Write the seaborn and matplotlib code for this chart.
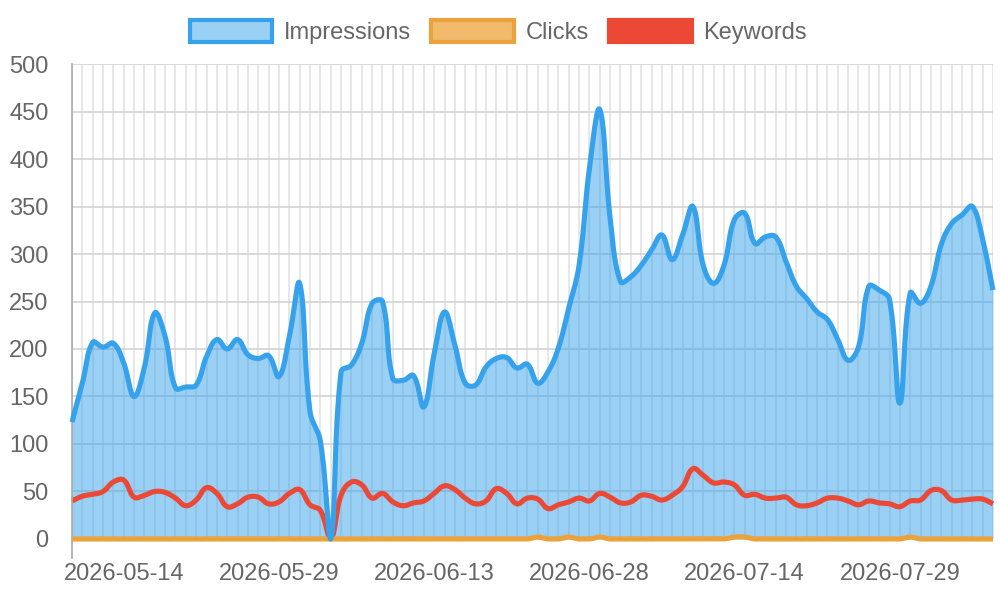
import numpy as np
import pandas as pd
import matplotlib
matplotlib.use("Agg")
import matplotlib.pyplot as plt
from matplotlib.patches import Patch
import seaborn as sns

# ---------------- data ----------------
all_days = pd.date_range("2026-05-09", "2026-08-07", freq="D")
dates = [d.strftime("%Y-%m-%d") for d in all_days if d.strftime("%Y-%m-%d") != "2026-07-05"]

impressions = [123, 164, 207, 202, 206, 185, 150, 181, 238, 213,
               159, 160, 162, 192, 210, 200, 210, 194, 190, 193,
               171, 213, 269, 134, 103, 0, 176, 183, 206, 248,
               250, 169, 167, 172, 139, 195, 239, 204, 164, 162,
               181, 190, 191, 180, 184, 164, 176, 201, 243, 288,
               390, 452, 338, 271, 276, 288, 304, 320, 294, 320,
               350, 288, 269, 288, 336, 343, 311, 318, 318, 292,
               266, 253, 239, 231, 210, 188, 202, 266, 262, 252,
               143, 259, 248, 266, 310, 332, 341, 350, 315, 262]

clicks = [0, 0, 0, 0, 0, 0, 0, 0, 0, 0,
          0, 0, 0, 0, 0, 0, 0, 0, 0, 0,
          0, 0, 0, 0, 0, 0, 0, 0, 0, 0,
          0, 0, 0, 0, 0, 0, 0, 0, 0, 0,
          0, 0, 0, 0, 0, 2, 0, 0, 2, 0,
          0, 2, 0, 0, 0, 0, 0, 0, 0, 0,
          0, 0, 0, 0, 2, 2, 0, 0, 0, 0,
          0, 0, 0, 0, 0, 0, 0, 0, 0, 0,
          0, 2, 0, 0, 0, 0, 0, 0, 0, 0]

keywords = [40, 45, 47, 50, 60, 62, 44, 46, 50, 49,
            43, 35, 41, 54, 48, 34, 37, 44, 44, 37,
            39, 48, 52, 36, 30, 0, 46, 60, 57, 43,
            48, 39, 35, 38, 40, 48, 56, 52, 43, 37,
            40, 53, 48, 37, 43, 42, 32, 36, 39, 43,
            40, 48, 44, 38, 39, 46, 45, 41, 46, 55,
            74, 67, 59, 60, 57, 46, 47, 43, 43, 44,
            36, 35, 38, 43, 43, 40, 36, 40, 38, 37,
            34, 40, 41, 51, 51, 41, 41, 42, 42, 37]

series_names = ["Impressions", "Clicks", "Keywords"]
label_step = 15
label_start = 5

# ---------------- style ----------------
BLUE = "#36A2EB"
ORANGE = "#EBA23A"
RED = "#EC4836"
TXT = "#666666"

sns.set_theme(style="white")
plt.rcParams["font.family"] = ["Liberation Sans", "DejaVu Sans"]

fig = plt.figure(figsize=(10, 6), dpi=100)
ax = fig.add_axes([0.072, 0.1017, 0.921, 0.7916])

n = len(impressions)
YMAX = 500
# pixels per unit (for the Chart.js-like spline which works in pixel space)
SX = 921.0 / (n - 1)
SY = 475.0 / YMAX


def smooth(values, t=0.4, steps=24):
    xs = np.arange(len(values), dtype=float) * SX
    ys = np.asarray(values, dtype=float) * SY
    m = len(xs)
    prev_cp = np.zeros((m, 2))
    next_cp = np.zeros((m, 2))
    for i in range(m):
        a = max(i - 1, 0)
        b = min(i + 1, m - 1)
        d01 = np.hypot(xs[i] - xs[a], ys[i] - ys[a])
        d12 = np.hypot(xs[b] - xs[i], ys[b] - ys[i])
        tot = d01 + d12
        s01 = d01 / tot if tot else 0.0
        s12 = d12 / tot if tot else 0.0
        fa, fb = t * s01, t * s12
        dx, dy = xs[b] - xs[a], ys[b] - ys[a]
        prev_cp[i] = (xs[i] - fa * dx, ys[i] - fa * dy)
        next_cp[i] = (xs[i] + fb * dx, ys[i] + fb * dy)
    # cap to chart area
    prev_cp[:, 1] = np.clip(prev_cp[:, 1], 0, YMAX * SY)
    next_cp[:, 1] = np.clip(next_cp[:, 1], 0, YMAX * SY)
    prev_cp[:, 0] = np.clip(prev_cp[:, 0], 0, xs[-1])
    next_cp[:, 0] = np.clip(next_cp[:, 0], 0, xs[-1])
    out_x, out_y = [xs[0]], [ys[0]]
    tt = np.linspace(0, 1, steps + 1)[1:]
    for i in range(m - 1):
        p0 = np.array([xs[i], ys[i]])
        p1 = next_cp[i]
        p2 = prev_cp[i + 1]
        p3 = np.array([xs[i + 1], ys[i + 1]])
        for u in tt:
            q = ((1 - u) ** 3) * p0 + 3 * ((1 - u) ** 2) * u * p1 + 3 * (1 - u) * u * u * p2 + (u ** 3) * p3
            out_x.append(q[0])
            out_y.append(q[1])
    return np.array(out_x) / SX, np.clip(np.array(out_y) / SY, 0, YMAX)


ix, iy = smooth(impressions)
cx, cy = smooth(clicks)
kx, ky = smooth(keywords)

ax.fill_between(ix, 0, iy, color=BLUE, alpha=0.5, linewidth=0, zorder=1)
sns.lineplot(x=kx, y=ky, sort=False, estimator=None, ax=ax, color=RED,
             linewidth=3.7, zorder=2, solid_capstyle="butt", solid_joinstyle="round",
             clip_on=False)
sns.lineplot(x=cx, y=cy, sort=False, estimator=None, ax=ax, color=ORANGE,
             linewidth=3.7, zorder=3, solid_capstyle="butt", clip_on=False)
sns.lineplot(x=ix, y=iy, sort=False, estimator=None, ax=ax, color=BLUE,
             linewidth=3.7, zorder=4, solid_capstyle="butt", solid_joinstyle="round",
             clip_on=False)

ax.set_xlim(0, n - 1)
ax.set_ylim(0, YMAX)
ax.set_xlabel("")
ax.set_ylabel("")

# grid / ticks
ax.set_xticks(range(n))
ax.set_xticklabels([dates[i] if (i - label_start) % label_step == 0 and i >= label_start else ""
                    for i in range(n)])
ax.set_yticks(np.arange(0, YMAX + 1, 50))
ax.tick_params(axis="x", length=14.4, width=1.1, color="#e0e0e0", pad=3,
               labelsize=17, labelcolor=TXT)
ax.tick_params(axis="y", length=15.5, width=1.1, color="#d6d6d6", pad=1.5,
               labelsize=17, labelcolor=TXT)
ax.xaxis.grid(True, color="#e0e0e0", linewidth=1.1, zorder=0)
ax.yaxis.grid(True, color="#d0d0d0", linewidth=1.1, zorder=0)
ax.set_axisbelow(True)

for s in ["top", "right", "bottom"]:
    ax.spines[s].set_visible(False)
ax.spines["left"].set_color("#a8a8a8")
ax.spines["left"].set_linewidth(1.2)
ax.spines["left"].set_bounds(-20.5, YMAX)

# legend
handles = [
    Patch(facecolor="#9BD0F5", edgecolor=BLUE, linewidth=3),
    Patch(facecolor="#F2BA6C", edgecolor=ORANGE, linewidth=3),
    Patch(facecolor=RED, edgecolor=RED, linewidth=3),
]
leg = fig.legend(handles, series_names, loc="center", bbox_to_anchor=(0.4985, 0.946),
                 ncol=3, frameon=False, fontsize=17, handlelength=3.5,
                 handleheight=1.05, handletextpad=0.5, columnspacing=0.85)
for t in leg.get_texts():
    t.set_color(TXT)

fig.savefig("out.png", dpi=100)
